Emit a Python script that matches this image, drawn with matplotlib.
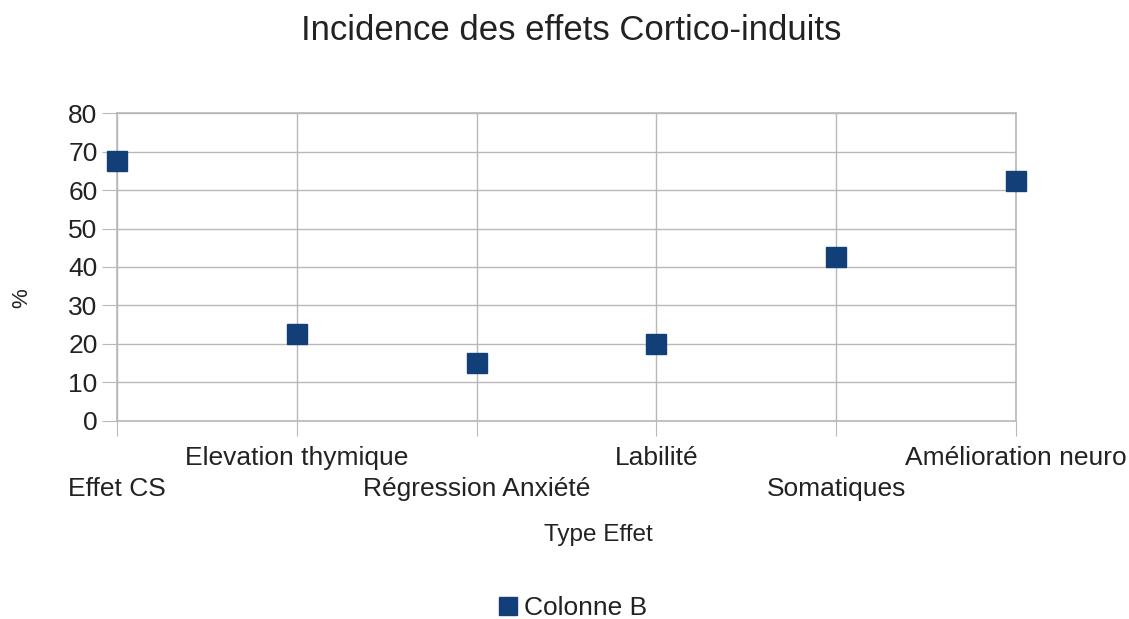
import matplotlib.pyplot as plt
import numpy as np

plt.rcParams['font.family'] = ['Liberation Sans', 'DejaVu Sans']

categories = ["Effet CS", "Elevation thymique", "Régression Anxiété",
              "Labilité", "Somatiques", "Amélioration neuro"]
values = [67.5, 22.5, 15, 20, 42.5, 62.5]
yticks = [0, 10, 20, 30, 40, 50, 60, 70, 80]

color = '#123f78'
grid_col = '#b8b8b8'
txt = '#222222'

fig = plt.figure(figsize=(11.29, 6.19), dpi=100)
ax = fig.add_axes([117/1129, 1 - 420.5/619, (1016-117)/1129, (420.5-113.5)/619])

x = np.arange(len(categories))
ax.plot(x, values, linestyle='none', marker='s', markersize=14.5,
        color=color, label="Colonne B", clip_on=False, zorder=3)

ax.set_xlim(0, len(categories) - 1)
ax.set_ylim(0, 80)
ax.set_yticks(yticks)
ax.set_xticks(x)
ax.set_xticklabels(categories, fontsize=19)
ax.tick_params(axis='y', labelsize=19, length=11, color=grid_col, pad=3,
               labelcolor=txt)
ax.tick_params(axis='x', length=11, color=grid_col, labelcolor=txt)
for i, t in enumerate(ax.xaxis.get_major_ticks()):
    t.set_pad(7.5 if i % 2 else 30)

ax.grid(True, color=grid_col, linewidth=1)
ax.set_axisbelow(True)
for s in ax.spines.values():
    s.set_color(grid_col)
    s.set_linewidth(1.2)

fig.text(571/1129, 1 - 31/619, "Incidence des effets Cortico-induits",
         ha='center', va='center', fontsize=25, color=txt)
fig.text(598/1129, 1 - 535/619, "Type Effet", ha='center', va='center',
         fontsize=17.5, color=txt)
fig.text(22/1129, 1 - 298/619, "%", ha='center', va='center', rotation=90,
         fontsize=16, color=txt)

fig.legend(loc='center', bbox_to_anchor=(571/1129, 1 - 608/619), frameon=False,
           fontsize=19, handletextpad=0.1, handlelength=1.0, markerscale=0.9,
           labelcolor=txt)

fig.savefig("out.png", dpi=100)
